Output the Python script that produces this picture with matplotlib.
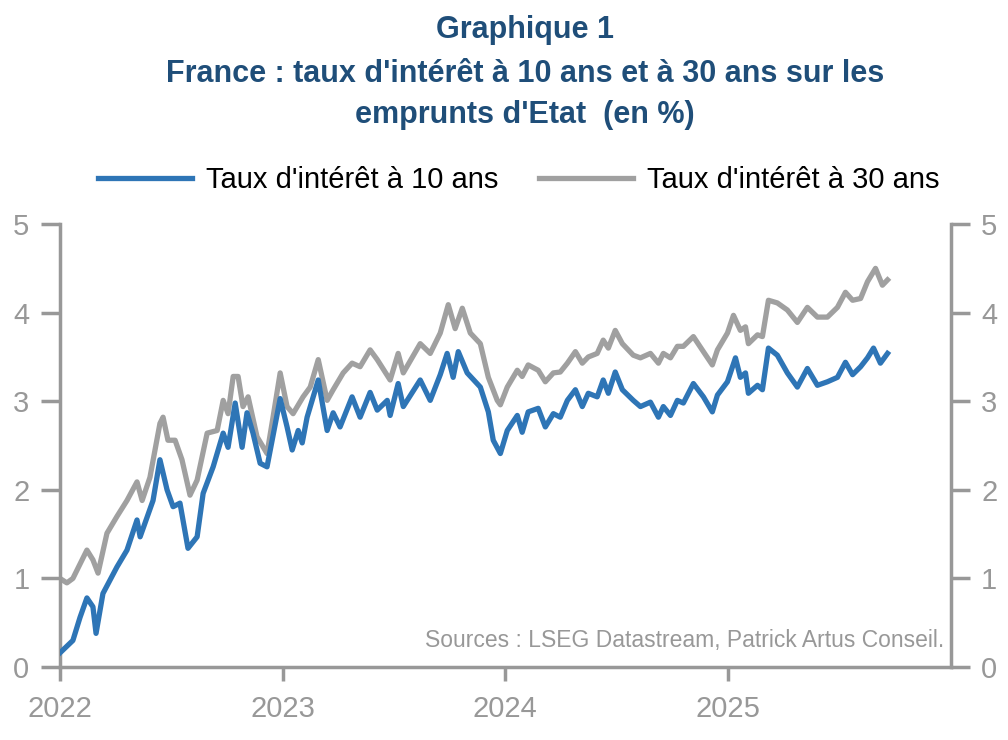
import matplotlib
matplotlib.use("Agg")
import matplotlib.pyplot as plt
from matplotlib.ticker import FixedLocator

plt.rcParams['font.family'] = ['Liberation Sans', 'DejaVu Sans']

# dates in decimal years, rates in %
t10 = [2022.000, 2022.058, 2022.090, 2022.121, 2022.148, 2022.162, 2022.193, 2022.256,
       2022.301, 2022.346, 2022.360, 2022.418, 2022.449, 2022.481, 2022.508, 2022.539,
       2022.575, 2022.616, 2022.643, 2022.688, 2022.733, 2022.755, 2022.787, 2022.818,
       2022.840, 2022.867, 2022.899, 2022.930, 2022.989, 2023.020, 2023.043, 2023.070,
       2023.088, 2023.110, 2023.160, 2023.200, 2023.227, 2023.258, 2023.312, 2023.348,
       2023.393, 2023.425, 2023.470, 2023.483, 2023.519, 2023.542, 2023.618, 2023.663,
       2023.708, 2023.739, 2023.766, 2023.789, 2023.829, 2023.888, 2023.924, 2023.946,
       2023.978, 2024.009, 2024.054, 2024.076, 2024.103, 2024.148, 2024.180, 2024.216,
       2024.247, 2024.279, 2024.315, 2024.346, 2024.373, 2024.413, 2024.440, 2024.463,
       2024.494, 2024.526, 2024.575, 2024.607, 2024.652, 2024.688, 2024.710, 2024.742,
       2024.773, 2024.800, 2024.845, 2024.890, 2024.930, 2024.953, 2024.998, 2025.034,
       2025.056, 2025.079, 2025.092, 2025.133, 2025.155, 2025.182, 2025.222, 2025.267,
       2025.312, 2025.357, 2025.402, 2025.447, 2025.492, 2025.528, 2025.560, 2025.596,
       2025.627, 2025.654, 2025.685, 2025.717]
taux10 = [0.16, 0.30, 0.56, 0.78, 0.68, 0.38, 0.83, 1.13,
          1.32, 1.66, 1.47, 1.88, 2.34, 2.00, 1.81, 1.85,
          1.34, 1.47, 1.96, 2.26, 2.64, 2.48, 2.98, 2.48,
          2.87, 2.64, 2.30, 2.26, 3.03, 2.71, 2.45, 2.67,
          2.53, 2.82, 3.24, 2.67, 2.87, 2.71, 3.05, 2.82,
          3.10, 2.90, 3.01, 2.84, 3.20, 2.94, 3.24, 3.01,
          3.30, 3.54, 3.27, 3.56, 3.32, 3.16, 2.88, 2.56,
          2.41, 2.67, 2.84, 2.65, 2.88, 2.92, 2.71, 2.86,
          2.82, 3.01, 3.13, 2.94, 3.09, 3.05, 3.24, 3.09,
          3.33, 3.13, 3.01, 2.94, 2.99, 2.82, 2.94, 2.84,
          3.01, 2.98, 3.20, 3.05, 2.88, 3.07, 3.22, 3.49,
          3.27, 3.32, 3.09, 3.18, 3.13, 3.60, 3.52, 3.32,
          3.16, 3.37, 3.18, 3.22, 3.27, 3.44, 3.30, 3.39,
          3.49, 3.60, 3.43, 3.54]

t30 = [2022.000, 2022.031, 2022.058, 2022.121, 2022.148, 2022.171, 2022.211, 2022.256,
       2022.301, 2022.346, 2022.369, 2022.404, 2022.449, 2022.463, 2022.485, 2022.517,
       2022.548, 2022.584, 2022.616, 2022.661, 2022.706, 2022.733, 2022.755, 2022.778,
       2022.800, 2022.822, 2022.845, 2022.885, 2022.930, 2022.957, 2022.989, 2023.020,
       2023.047, 2023.092, 2023.124, 2023.160, 2023.200, 2023.227, 2023.272, 2023.312,
       2023.348, 2023.393, 2023.425, 2023.483, 2023.519, 2023.542, 2023.618, 2023.663,
       2023.708, 2023.744, 2023.775, 2023.807, 2023.843, 2023.888, 2023.924, 2023.964,
       2023.978, 2024.009, 2024.054, 2024.076, 2024.103, 2024.148, 2024.180, 2024.216,
       2024.247, 2024.279, 2024.315, 2024.346, 2024.373, 2024.413, 2024.440, 2024.463,
       2024.494, 2024.526, 2024.575, 2024.607, 2024.652, 2024.688, 2024.710, 2024.742,
       2024.773, 2024.800, 2024.845, 2024.890, 2024.930, 2024.953, 2024.998, 2025.025,
       2025.056, 2025.079, 2025.092, 2025.133, 2025.155, 2025.182, 2025.222, 2025.267,
       2025.312, 2025.357, 2025.402, 2025.447, 2025.492, 2025.528, 2025.560, 2025.596,
       2025.627, 2025.663, 2025.694, 2025.717]
taux30 = [1.00, 0.95, 1.00, 1.32, 1.21, 1.06, 1.51, 1.70,
          1.88, 2.09, 1.88, 2.14, 2.75, 2.82, 2.56, 2.56,
          2.34, 1.94, 2.11, 2.64, 2.67, 3.01, 2.86, 3.28,
          3.28, 2.94, 3.05, 2.60, 2.41, 2.82, 3.32, 2.94,
          2.86, 3.05, 3.16, 3.47, 3.01, 3.13, 3.32, 3.43,
          3.39, 3.58, 3.47, 3.24, 3.54, 3.32, 3.65, 3.54,
          3.77, 4.09, 3.82, 4.05, 3.77, 3.65, 3.27, 3.01,
          2.96, 3.16, 3.35, 3.28, 3.41, 3.35, 3.22, 3.32,
          3.33, 3.43, 3.56, 3.43, 3.50, 3.54, 3.69, 3.60,
          3.80, 3.65, 3.52, 3.49, 3.54, 3.43, 3.54, 3.49,
          3.62, 3.62, 3.73, 3.56, 3.41, 3.58, 3.77, 3.97,
          3.80, 3.84, 3.65, 3.75, 3.73, 4.14, 4.11, 4.03,
          3.89, 4.06, 3.95, 3.95, 4.06, 4.23, 4.14, 4.16,
          4.35, 4.50, 4.31, 4.37]

years = [2022, 2023, 2024, 2025]
yticks = [0, 1, 2, 3, 4, 5]
labels = ["Taux d'intérêt à 10 ans", "Taux d'intérêt à 30 ans"]

blue = '#2E75B6'
grey = '#A0A0A0'
axis_grey = '#989898'
title_col = '#1F4E79'

fig = plt.figure(figsize=(10.08, 7.40), dpi=100)
ax = fig.add_axes([0.0595, 0.0986, 0.8835, 0.5986])

ax.plot(t10, taux10, color=blue, lw=3.8, label=labels[0], zorder=3)
ax.plot(t30, taux30, color=grey, lw=3.8, label=labels[1], zorder=2)

ax.set_xlim(2022, 2026)
ax.set_ylim(0, 5)

for s in ['left', 'right', 'bottom']:
    ax.spines[s].set_color(axis_grey)
    ax.spines[s].set_linewidth(2.5)
ax.spines['top'].set_visible(False)

ax.xaxis.set_major_locator(FixedLocator(years))
ax.set_xticklabels([str(y) for y in years])
ax.yaxis.set_major_locator(FixedLocator(yticks))
ax.tick_params(axis='y', which='both', left=True, right=True, labelleft=True,
               labelright=True, direction='out', length=14, width=2.5,
               color=axis_grey, labelcolor=axis_grey, labelsize=21, pad=8)
ax.tick_params(axis='x', direction='out', length=10, width=2.5, color=axis_grey,
               labelcolor=axis_grey, labelsize=21, pad=10)

ax.text(0.993, 0.035, 'Sources : LSEG Datastream, Patrick Artus Conseil.',
        transform=ax.transAxes, ha='right', va='bottom', color=axis_grey, fontsize=16.5)

fig.text(0.521, 0.960, 'Graphique 1', ha='center', va='center', fontsize=22,
         fontweight='bold', color=title_col)
fig.text(0.521, 0.900, "France : taux d'intérêt à 10 ans et à 30 ans sur les",
         ha='center', va='center', fontsize=22, fontweight='bold', color=title_col)
fig.text(0.521, 0.845, "emprunts d'Etat  (en %)", ha='center', va='center',
         fontsize=22, fontweight='bold', color=title_col)

fig.legend(loc='center', bbox_to_anchor=(0.515, 0.757), ncol=2, frameon=False,
           fontsize=21, handlelength=3.2, handletextpad=0.5, columnspacing=1.4)

fig.savefig('out.png', dpi=100)
